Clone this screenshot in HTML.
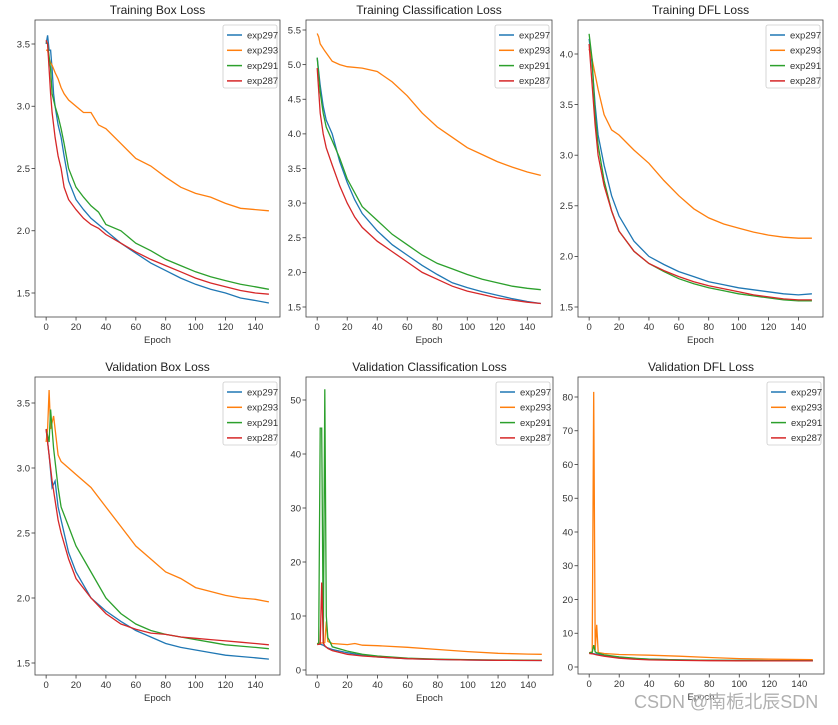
<!DOCTYPE html>
<html><head><meta charset="utf-8"><style>
body{margin:0;background:#fff;width:838px;height:720px;overflow:hidden;font-family:"Liberation Sans","DejaVu Sans",sans-serif}
svg text{font-family:"Liberation Sans","DejaVu Sans",sans-serif}
#wm{position:absolute;left:634px;top:688px;font:18px "Liberation Sans","Noto Sans CJK SC",sans-serif;color:#b0b0b0;text-shadow:0 0 1px #fff}
</style></head><body>
<svg id="fig" width="838" height="720" xmlns="http://www.w3.org/2000/svg"></svg>
<div id="wm">CSDN @南栀北辰SDN</div>
<script>
const seriesNames = ["exp297","exp293","exp291","exp287"];
const colors = ["#1f77b4","#ff7f0e","#2ca02c","#d62728"];
const xTicks = [0,20,40,60,80,100,120,140];

// Training Box Loss
const tb_297=[[0,3.5],[1,3.57],[2,3.45],[3,3.45],[4,3.3],[5,3.1],[6,3.0],[8,2.85],[10,2.75],[12,2.6],[15,2.4],[20,2.25],[25,2.17],[30,2.1],[35,2.05],[40,2.0],[50,1.9],[60,1.82],[70,1.74],[80,1.68],[90,1.62],[100,1.57],[110,1.53],[120,1.5],[130,1.46],[140,1.44],[149,1.42]];
const tb_293=[[0,3.45],[1,3.45],[2,3.38],[3,3.35],[4,3.33],[5,3.3],[6,3.27],[8,3.22],[10,3.15],[12,3.1],[15,3.05],[20,3.0],[25,2.95],[30,2.95],[35,2.85],[40,2.82],[50,2.7],[60,2.58],[70,2.52],[80,2.43],[90,2.35],[100,2.3],[110,2.27],[120,2.22],[130,2.18],[140,2.17],[149,2.16]];
const tb_291=[[0,3.52],[1,3.5],[2,3.4],[3,3.3],[4,3.1],[5,3.05],[6,3.0],[8,2.92],[10,2.82],[12,2.7],[15,2.5],[20,2.35],[25,2.27],[30,2.2],[35,2.15],[40,2.05],[50,2.0],[60,1.9],[70,1.84],[80,1.77],[90,1.72],[100,1.67],[110,1.63],[120,1.6],[130,1.57],[140,1.55],[149,1.53]];
const tb_287=[[0,3.53],[1,3.5],[2,3.3],[3,3.1],[4,2.95],[5,2.85],[6,2.75],[8,2.6],[10,2.5],[12,2.35],[15,2.25],[20,2.17],[25,2.1],[30,2.05],[35,2.02],[40,1.97],[50,1.9],[60,1.83],[70,1.77],[80,1.72],[90,1.67],[100,1.62],[110,1.58],[120,1.55],[130,1.52],[140,1.5],[149,1.49]];
// Training Classification Loss
const tc_297=[[0,5.1],[2,4.7],[4,4.4],[6,4.2],[10,4.0],[15,3.6],[20,3.3],[25,3.05],[30,2.85],[40,2.6],[50,2.4],[60,2.25],[70,2.1],[80,1.97],[90,1.85],[100,1.78],[110,1.72],[120,1.67],[130,1.62],[140,1.58],[149,1.55]];
const tc_293=[[0,5.45],[1,5.4],[2,5.3],[5,5.2],[10,5.05],[15,5.0],[20,4.97],[30,4.95],[40,4.9],[50,4.75],[60,4.55],[70,4.3],[80,4.1],[90,3.95],[100,3.8],[110,3.7],[120,3.6],[130,3.52],[140,3.45],[149,3.4]];
const tc_291=[[0,5.1],[2,4.6],[4,4.3],[6,4.1],[10,3.9],[15,3.65],[20,3.35],[25,3.15],[30,2.95],[40,2.75],[50,2.55],[60,2.4],[70,2.25],[80,2.13],[90,2.05],[100,1.97],[110,1.9],[120,1.85],[130,1.8],[140,1.77],[149,1.75]];
const tc_287=[[0,4.95],[2,4.3],[4,4.0],[6,3.8],[10,3.55],[15,3.25],[20,3.0],[25,2.8],[30,2.65],[40,2.45],[50,2.3],[60,2.15],[70,2.0],[80,1.9],[90,1.8],[100,1.73],[110,1.68],[120,1.63],[130,1.6],[140,1.57],[149,1.55]];
// Training DFL Loss
const td_297=[[0,4.15],[2,3.9],[4,3.5],[6,3.2],[10,2.9],[15,2.6],[20,2.4],[30,2.15],[40,2.0],[50,1.92],[60,1.85],[70,1.8],[80,1.75],[90,1.72],[100,1.69],[110,1.67],[120,1.65],[130,1.63],[140,1.62],[149,1.63]];
const td_293=[[0,4.05],[2,3.95],[4,3.8],[6,3.65],[10,3.4],[15,3.25],[20,3.2],[30,3.05],[40,2.92],[50,2.75],[60,2.6],[70,2.47],[80,2.38],[90,2.32],[100,2.28],[110,2.24],[120,2.21],[130,2.19],[140,2.18],[149,2.18]];
const td_291=[[0,4.2],[2,3.95],[4,3.4],[6,3.1],[10,2.75],[15,2.45],[20,2.25],[30,2.05],[40,1.93],[50,1.85],[60,1.78],[70,1.73],[80,1.69],[90,1.66],[100,1.63],[110,1.61],[120,1.59],[130,1.57],[140,1.56],[149,1.56]];
const td_287=[[0,4.1],[2,3.7],[4,3.3],[6,3.0],[10,2.7],[15,2.45],[20,2.25],[30,2.05],[40,1.93],[50,1.86],[60,1.8],[70,1.75],[80,1.71],[90,1.68],[100,1.65],[110,1.62],[120,1.6],[130,1.58],[140,1.57],[149,1.57]];
// Validation Box Loss
const vb_297=[[0,3.3],[1,3.2],[2,3.1],[4,2.85],[6,2.9],[8,2.7],[10,2.6],[15,2.35],[20,2.2],[30,2.0],[40,1.9],[50,1.82],[60,1.75],[70,1.7],[80,1.65],[90,1.62],[100,1.6],[110,1.58],[120,1.56],[130,1.55],[140,1.54],[149,1.53]];
const vb_293=[[0,3.2],[1,3.3],[2,3.6],[3,3.3],[5,3.4],[8,3.1],[10,3.05],[15,3.0],[20,2.95],[30,2.85],[40,2.7],[50,2.55],[60,2.4],[70,2.3],[80,2.2],[90,2.15],[100,2.08],[110,2.05],[120,2.02],[130,2.0],[140,1.99],[149,1.97]];
const vb_291=[[0,3.3],[2,3.2],[3,3.45],[5,3.15],[8,2.85],[10,2.7],[15,2.55],[20,2.4],[30,2.2],[40,2.0],[50,1.88],[60,1.8],[70,1.75],[80,1.72],[90,1.7],[100,1.68],[110,1.66],[120,1.64],[130,1.63],[140,1.62],[149,1.61]];
const vb_287=[[0,3.3],[2,3.1],[4,2.9],[6,2.75],[8,2.6],[10,2.5],[15,2.3],[20,2.15],[30,2.0],[40,1.88],[50,1.8],[60,1.76],[70,1.73],[80,1.72],[90,1.7],[100,1.69],[110,1.68],[120,1.67],[130,1.66],[140,1.65],[149,1.64]];
// Validation Classification Loss
const vc_297=[[0,4.8],[2,4.8],[4,4.6],[6,4.2],[10,3.8],[20,3.2],[30,2.7],[40,2.4],[60,2.1],[80,1.95],[100,1.85],[120,1.8],[149,1.75]];
const vc_293=[[0,4.9],[2,5.0],[4,5.0],[5,5.1],[6,9],[7,5.3],[10,4.9],[20,4.7],[25,4.9],[30,4.6],[40,4.5],[60,4.2],[80,3.8],[100,3.4],[120,3.1],[140,2.95],[149,2.9]];
const vc_291=[[0,4.8],[1,5],[2,44.8],[3,44.8],[4,5],[5,52],[6,10],[7,6],[8,5.5],[10,4.3],[20,3.5],[30,2.9],[40,2.6],[60,2.2],[80,2.0],[100,1.9],[120,1.85],[149,1.8]];
const vc_287=[[0,4.7],[2,4.8],[3,16.2],[4,5],[5,4.5],[7,4.0],[10,3.6],[20,2.9],[30,2.6],[40,2.4],[60,2.1],[80,1.95],[100,1.85],[120,1.8],[149,1.75]];
// Validation DFL Loss
const vd_297=[[0,4.1],[2,4.0],[5,3.8],[10,3.4],[20,2.9],[30,2.5],[40,2.3],[60,2.1],[80,2.0],[100,1.95],[120,1.9],[149,1.88]];
const vd_293=[[0,4.2],[2,4.5],[3,81.5],[4,5],[5,12.5],[6,4.3],[10,4.0],[20,3.7],[40,3.5],[60,3.2],[80,2.8],[100,2.5],[120,2.3],[149,2.2]];
const vd_291=[[0,4.2],[2,4.3],[3,6.5],[4,4.5],[5,4.2],[10,3.6],[20,3.0],[30,2.6],[40,2.3],[60,2.1],[80,2.0],[100,1.95],[120,1.9],[149,1.87]];
const vd_287=[[0,4.0],[2,3.9],[5,3.6],[10,3.2],[20,2.6],[30,2.3],[40,2.1],[60,1.95],[80,1.88],[100,1.85],[120,1.82],[149,1.8]];

const tbTicks=[1.5,2.0,2.5,3.0,3.5], tcTicks=[1.5,2.0,2.5,3.0,3.5,4.0,4.5,5.0,5.5], tdTicks=[1.5,2.0,2.5,3.0,3.5,4.0];
const vbTicks=[1.5,2.0,2.5,3.0,3.5], vcTicks=[0,10,20,30,40,50], vdTicks=[0,10,20,30,40,50,60,70,80];

const panels=[
 {name:"training-box-loss",title:"Training Box Loss",x:35,y:20,w:245,h:297,a:[3.5,44],b:[1.5,293],ticks:tbTicks,dec:1,s:[tb_297,tb_293,tb_291,tb_287]},
 {name:"training-classification-loss",title:"Training Classification Loss",x:306,y:20,w:246,h:297,a:[5.5,30],b:[1.5,307],ticks:tcTicks,dec:1,s:[tc_297,tc_293,tc_291,tc_287]},
 {name:"training-dfl-loss",title:"Training DFL Loss",x:578,y:20,w:245,h:297,a:[4.0,54],b:[1.5,307],ticks:tdTicks,dec:1,s:[td_297,td_293,td_291,td_287]},
 {name:"validation-box-loss",title:"Validation Box Loss",x:35,y:377,w:245,h:298,a:[3.5,403],b:[1.5,663],ticks:vbTicks,dec:1,s:[vb_297,vb_293,vb_291,vb_287]},
 {name:"validation-classification-loss",title:"Validation Classification Loss",x:306,y:377,w:247,h:298,a:[50,400],b:[0,670],ticks:vcTicks,dec:0,s:[vc_297,vc_293,vc_291,vc_287]},
 {name:"validation-dfl-loss",title:"Validation DFL Loss",x:578,y:377,w:246,h:297,a:[80,397],b:[0,667],ticks:vdTicks,dec:0,s:[vd_297,vd_293,vd_291,vd_287]}
];
const NS="http://www.w3.org/2000/svg", svg=document.getElementById('fig');
function mk(t,at,p){const e=document.createElementNS(NS,t);for(const k in at)e.setAttribute(k,at[k]);(p||svg).appendChild(e);return e;}
panels.forEach(P=>{
 const g=mk('g',{});
 
 
 const xs=e=>P.x+(e+7.45)*P.w/163.9;
 const ys=v=>P.b[1]+(v-P.b[0])*(P.a[1]-P.b[1])/(P.a[0]-P.b[0]);
 const t=mk('text',{x:P.x+P.w/2,y:P.y-6,'text-anchor':'middle','font-size':12,fill:'#222'},g);t.textContent=P.title;
 
 
 xTicks.forEach(v=>{const X=xs(v);mk('line',{x1:X,x2:X,y1:P.y+P.h,y2:P.y+P.h+3.5,stroke:'#333','stroke-width':0.8},g);
  const l=mk('text',{x:X,y:P.y+P.h+13,'text-anchor':'middle','font-size':9.5,fill:'#333'},g);l.textContent=v;
  
  });
 P.ticks.forEach(v=>{const Y=ys(v);mk('line',{x1:P.x-3.5,x2:P.x,y1:Y,y2:Y,stroke:'#333','stroke-width':0.8},g);
  const l=mk('text',{x:P.x-5,y:Y+3.3,'text-anchor':'end','font-size':9.5,fill:'#333'},g);l.textContent=v.toFixed(P.dec);
  
  });
 const xl=mk('text',{x:P.x+P.w/2,y:P.y+P.h+26,'text-anchor':'middle','font-size':9.5,fill:'#333'},g);xl.textContent="Epoch";
 
 
 const cp='c'+P.name;const cl=mk('clipPath',{id:cp},g);mk('rect',{x:P.x,y:P.y,width:P.w,height:P.h},cl);
 P.s.forEach((d,i)=>{const pl=mk('polyline',{points:d.map(p=>xs(p[0]).toFixed(1)+','+ys(p[1]).toFixed(1)).join(' '),fill:'none',stroke:colors[i],'stroke-width':1.3,'clip-path':'url(#'+cp+')'},g);
  
  });
 mk('rect',{x:P.x,y:P.y,width:P.w,height:P.h,fill:'none',stroke:'#444','stroke-width':0.8},g);
 const lg=mk('g',{},g);
 
 
 const lx=P.x+P.w-57,ly=P.y+5;
 mk('rect',{x:lx,y:ly,width:54,height:63,fill:'#fff',stroke:'#ccc','stroke-width':0.8,rx:2},lg);
 seriesNames.forEach((n,i)=>{const yy=ly+10+i*15.3;mk('line',{x1:lx+4,x2:lx+19,y1:yy,y2:yy,stroke:colors[i],'stroke-width':1.5},lg);
  const tt=mk('text',{x:lx+24,y:yy+3.3,'font-size':9.5,fill:'#333'},lg);tt.textContent=n;
  
  });
});
</script>
</body></html>
